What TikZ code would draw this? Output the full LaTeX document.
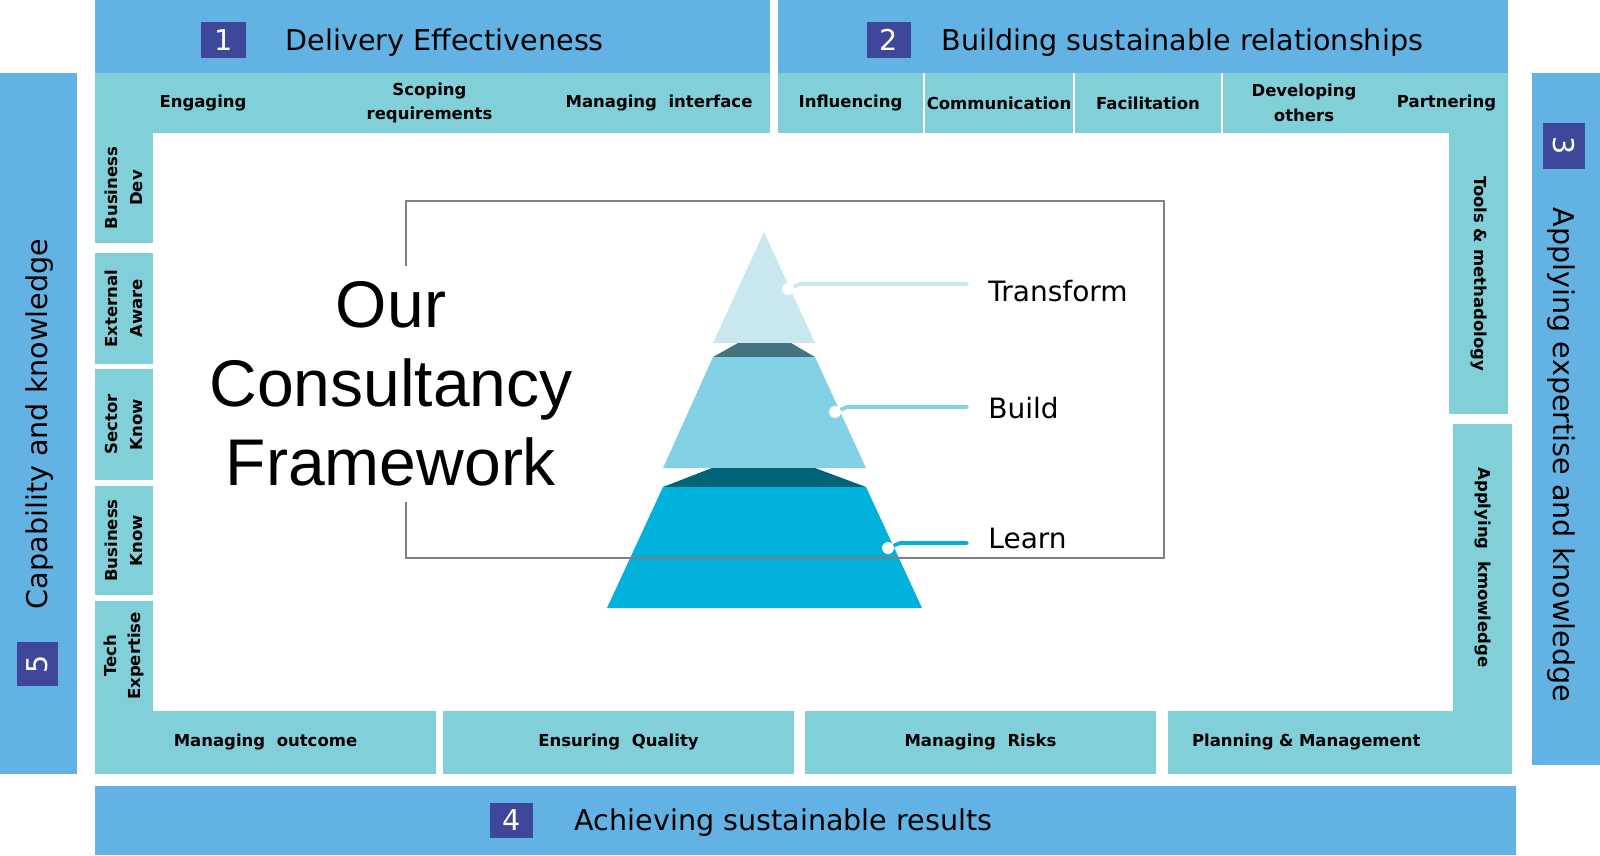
\documentclass[tikz,border=0pt]{standalone}
\usepackage{fontspec}
\setmainfont{DejaVu Sans}
\newfontfamily\bigfont{Liberation Sans}
\usetikzlibrary{positioning}

\definecolor{bandblue}{HTML}{62B3E3}
\definecolor{cellteal}{HTML}{80CFD9}
\definecolor{numblue}{HTML}{3F479B}
\definecolor{pyrlight}{HTML}{C9E7EF}
\definecolor{pyrcapA}{HTML}{45737F}
\definecolor{pyrmid}{HTML}{82D1E4}
\definecolor{pyrcapB}{HTML}{006478}
\definecolor{pyrbase}{HTML}{00B1DB}
\definecolor{framegray}{HTML}{7F7F7F}

\tikzset{
  band/.style={fill=bandblue, inner sep=0pt},
  numbox/.style={fill=numblue, text=white, inner sep=0pt, font=\fontsize{14.3}{16}\selectfont},
  bandtitle/.style={inner sep=0pt, font=\fontsize{14.3}{16}\selectfont},
  cell/.style={fill=cellteal, inner sep=0pt, align=center, font=\bfseries\fontsize{8.25}{12.25}\selectfont},
  tierlabel/.style={anchor=west, inner sep=0pt, font=\fontsize{14}{16}\selectfont},
  tierline/.style={line width=1.8pt, line cap=round},
}

\begin{document}
\begin{tikzpicture}[x=0.5pt, y=-0.5pt]
        \useasboundingbox (0,0) rectangle (1600,856);

        % outer bands
        \node[band, minimum width=337.5pt, minimum height=36.5pt] (band1) at (432.5,36.5) {};
        \node[band, minimum width=365pt, minimum height=36.5pt] (band2) at (1143,36.5) {};
        \node[band, minimum width=38.5pt, minimum height=350.5pt] (band5) at (38.5,423.5) {};
        \node[band, minimum width=34pt, minimum height=346pt] (band3) at (1566,419) {};
        \node[band, minimum width=710.5pt, minimum height=34.5pt] (band4) at (805.5,820.5) {};

        \node[numbox, minimum width=22.5pt, minimum height=18pt] (num1) at (223.5,40) {1};
        \node[bandtitle, anchor=west, right=19.5pt of num1, yshift=-1.5pt] (title1) {Delivery Effectiveness};
        \node[numbox, minimum width=22pt, minimum height=18pt] (num2) at (889,40) {2};
        \node[bandtitle, anchor=west, right=15pt of num2, yshift=-1.5pt] (title2) {Building sustainable relationships};
        \node[numbox, minimum width=21.5pt, minimum height=17.5pt] (num4) at (511.5,820.5) {4};
        \node[bandtitle, anchor=west, right=20.5pt of num4, yshift=-1pt] (title4) {Achieving sustainable results};
        \node[numbox, rotate=90, minimum width=22pt, minimum height=20.5pt] (num5) at (37.5,664) {5};
        \node[bandtitle, rotate=90] (title5) at (40,424) {Capability and knowledge};
        \node[numbox, rotate=-90, minimum width=23pt, minimum height=21pt] (num3) at (1564,146) {3};
        \node[bandtitle, rotate=-90] (title3) at (1561,455) {Applying expertise and knowledge};

        % competence cells, top row
        \node[cell, minimum width=108pt, minimum height=30pt] (engaging) at (203,103) {Engaging};
        \node[cell, minimum width=118.5pt, minimum height=30pt] (scoping) at (429.5,103) {Scoping\\requirements};
        \node[cell, minimum width=111pt, minimum height=30pt] (interface) at (659,103) {Managing\ \ interface};
        \node[cell, minimum width=72.5pt, minimum height=30pt] (influencing) at (850.5,103) {Influencing};
        \node[cell, minimum width=74pt, minimum height=30pt] (communication) at (999,103) {Communication};
        \node[cell, minimum width=73pt, minimum height=30pt] (facilitation) at (1148,103) {Facilitation};
        \node[cell, minimum width=81pt, minimum height=30pt] (developing) at (1304,103) {Developing\\others};
        \node[cell, minimum width=61.5pt, minimum height=30pt] (partnering) at (1446.5,103) {Partnering};

        % left column
        \node[cell, rotate=90, minimum width=55pt, minimum height=29pt] (busdev) at (124,188) {Business\\Dev};
        \node[cell, rotate=90, minimum width=55.5pt, minimum height=29pt] (extaware) at (124,308.5) {External\\Aware};
        \node[cell, rotate=90, minimum width=55.5pt, minimum height=29pt] (sectorknow) at (124,424.5) {Sector\\Know};
        \node[cell, rotate=90, minimum width=54.5pt, minimum height=29pt] (busknow) at (124,540.5) {Business\\Know};
        \node[cell, rotate=90, minimum width=55pt, minimum height=29pt] (techexp) at (124,656) {Tech\\Expertise};

        % right column
        \node[cell, rotate=-90, minimum width=140.5pt, minimum height=29.5pt] (tools) at (1478.5,273.5) {Tools \& methadology};
        \node[cell, rotate=-90, minimum width=143.5pt, minimum height=29.5pt] (applying) at (1482.5,567.5) {Applying\ \ kmowledge};

        % bottom row
        \node[cell, minimum width=170.5pt, minimum height=31.5pt] (outcome) at (265.5,742.5) {Managing\ \ outcome};
        \node[cell, minimum width=175.5pt, minimum height=31.5pt] (quality) at (618.5,742.5) {Ensuring\ \ Quality};
        \node[cell, minimum width=175.5pt, minimum height=31.5pt] (risks) at (980.5,742.5) {Managing\ \ Risks};
        \node[cell, minimum width=172pt, minimum height=31.5pt, text width=148pt, align=left] (planning) at (1340,742.5) {Planning \& Management};

        % pyramid
        \fill[pyrlight] (764,232) -- (815,343) -- (713,343) -- cycle;
        \fill[pyrcapA] (738,343) -- (791,343) -- (815,357) -- (713,357) -- cycle;
        \fill[pyrmid] (713,357) -- (815,357) -- (866,468) -- (663,468) -- cycle;
        \fill[pyrcapB] (712,468) -- (815,468) -- (866,487) -- (663,487) -- cycle;
        \fill[pyrbase] (663,487) -- (866,487) -- (922,608) -- (607,608) -- cycle;

        \draw[framegray, line width=0.6pt] (406,201) rectangle (1164,558);

        \node[tierlabel] (transform) at (988,291) {Transform};
        \node[tierlabel] (build) at (988,408) {Build};
        \node[tierlabel] (learn) at (988,538) {Learn};

        \coordinate (tdot) at (788,289);
        \coordinate (bdot) at (835,412);
        \coordinate (ldot) at (888,548);
        \draw[tierline, pyrlight] (tdot) -- ++(12,-5) coordinate (tk) -- ([xshift=-10.5pt]tk -| transform.west);
        \draw[tierline, pyrmid] (bdot) -- ++(12,-5) coordinate (bk) -- ([xshift=-10.5pt]bk -| build.west);
        \draw[tierline, pyrbase] (ldot) -- ++(12,-5) coordinate (lk) -- ([xshift=-10.5pt]lk -| learn.west);
        \foreach \d in {tdot,bdot,ldot}
            \fill[white] (\d) circle (3pt);

        \node[fill=white, align=center, inner xsep=2pt, inner ysep=8pt, font=\bigfont\fontsize{33}{39.5}\selectfont] (heading) at (391,384) {Our\\Consultancy\\Framework};
    \end{tikzpicture}
\end{document}
